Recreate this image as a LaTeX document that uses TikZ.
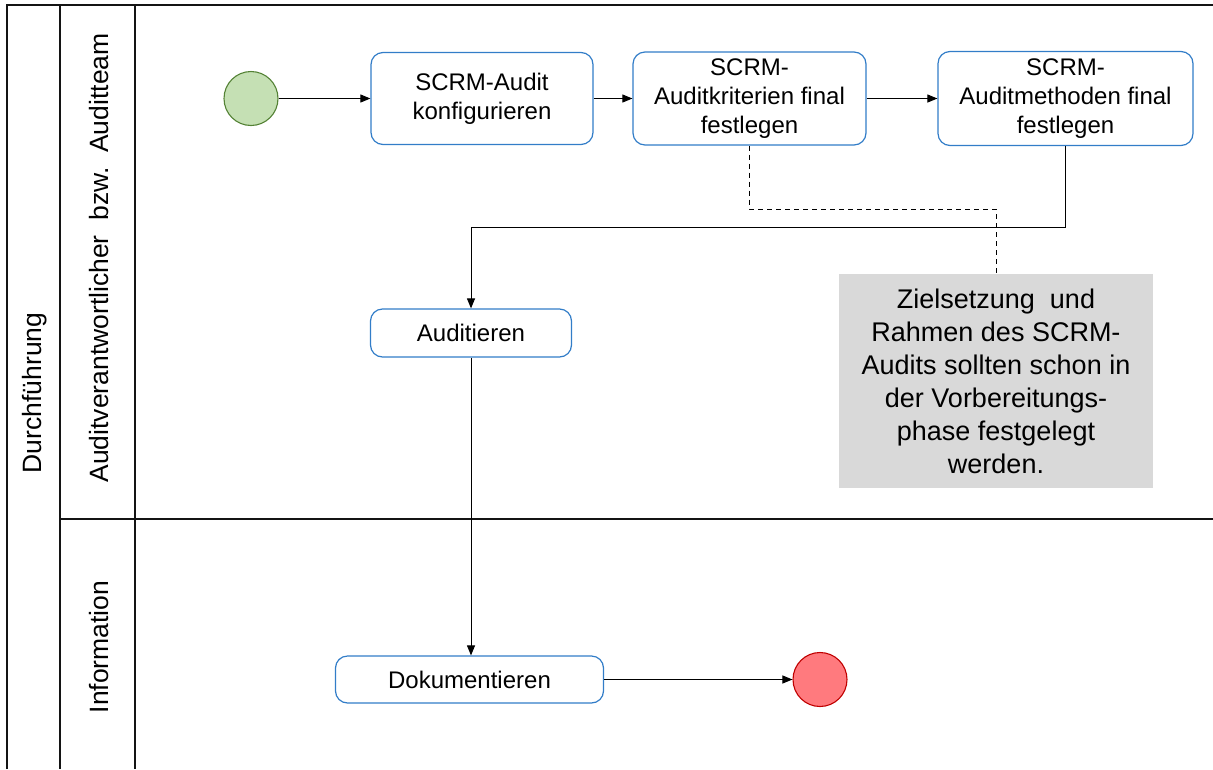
\documentclass[tikz,border=0pt]{standalone}
\usepackage{fontspec}
\setmainfont{Liberation Sans}
\usetikzlibrary{arrows.meta}

\definecolor{taskblue}{RGB}{50,125,200}
\definecolor{startfill}{RGB}{197,224,180}
\definecolor{startdraw}{RGB}{84,130,53}
\definecolor{endfill}{RGB}{255,122,126}
\definecolor{enddraw}{RGB}{192,0,0}
\definecolor{notefill}{RGB}{217,217,217}
\definecolor{poolline}{RGB}{20,20,20}

\tikzset{
  pool/.style={draw=poolline, line width=1.1pt},
  task/.style={draw=taskblue, line width=1.2pt, fill=white, rounded corners=12pt,
    align=center, inner sep=0pt, font=\fontsize{24}{29}\selectfont},
  startev/.style={circle, draw=startdraw, fill=startfill, line width=1.1pt,
    minimum size=54pt, inner sep=0pt},
  endev/.style={circle, draw=enddraw, fill=endfill, line width=1.1pt,
    minimum size=54pt, inner sep=0pt},
  annot/.style={fill=notefill, align=center, inner sep=0pt,
    font=\fontsize{27}{33}\selectfont},
  lanelabel/.style={rotate=90, font=\fontsize{26.5}{32}\selectfont, inner sep=0pt},
  flow/.style={draw=black, line width=1pt, -{Triangle[length=10pt,width=8pt]}},
  assoc/.style={draw=black, line width=1pt, dash pattern=on 5pt off 4pt},
}

\begin{document}
\begin{tikzpicture}[x=1pt, y=-1pt]
  \useasboundingbox (0,0) rectangle (1213,769);

  % pool and lanes
  \draw[pool] (7,769) -- (7,5) -- (1213,5);
  \draw[pool] (60,5) -- (60,769);
  \draw[pool] (135,5) -- (135,769);
  \draw[pool] (60,519) -- (1213,519);

  \node[lanelabel] (pname) at (35,393) {Durchführung};
  \node[lanelabel] (lane1) at (99,258) {Auditverantwortlicher\ \ bzw.\ \ Auditteam};
  \node[lanelabel] (lane2) at (99,647) {Information};

  % events and tasks
  \node[startev] (start) at (251,98.5) {};
  \node[task, minimum width=222pt, minimum height=92pt] (t1) at (482,98.5)
    {SCRM-Audit\\konfigurieren};
  \node[task, minimum width=233pt, minimum height=93pt] (t2) at (749.5,98.5)
    {SCRM-\\Auditkriterien final\\festlegen};
  \node[task, minimum width=255pt, minimum height=94pt] (t3) at (1065.5,98.5)
    {SCRM-\\Auditmethoden final\\festlegen};
  \node[task, minimum width=201pt, minimum height=48pt] (aud) at (471,333)
    {Auditieren};
  \node[task, minimum width=268pt, minimum height=47pt] (dok) at (469.5,679.5)
    {Dokumentieren};
  \node[endev] (end) at (820,679.5) {};

  \node[annot, minimum width=314pt, minimum height=214pt] (note) at (996,381)
    {Zielsetzung\ \ und\\Rahmen des SCRM-\\Audits sollten schon in\\der Vorbereitungs-\\phase festgelegt\\werden.};

  % routing helpers
  \coordinate (route) at (0,227);
  \coordinate (noteroute) at (0,209);

  % sequence flows
  \draw[flow] (start) -- (t1);
  \draw[flow] (t1) -- (t2);
  \draw[flow] (t2) -- (t3);
  \draw[flow] (t3.south) -- (t3.south |- route) -| (aud.north);
  \draw[flow] (aud.south) -- (aud.south |- dok.north);
  \draw[flow] (dok) -- (end);

  % association to the annotation
  \draw[assoc] (t2.south) -- (t2.south |- noteroute) -| (note.north);
\end{tikzpicture}
\end{document}
